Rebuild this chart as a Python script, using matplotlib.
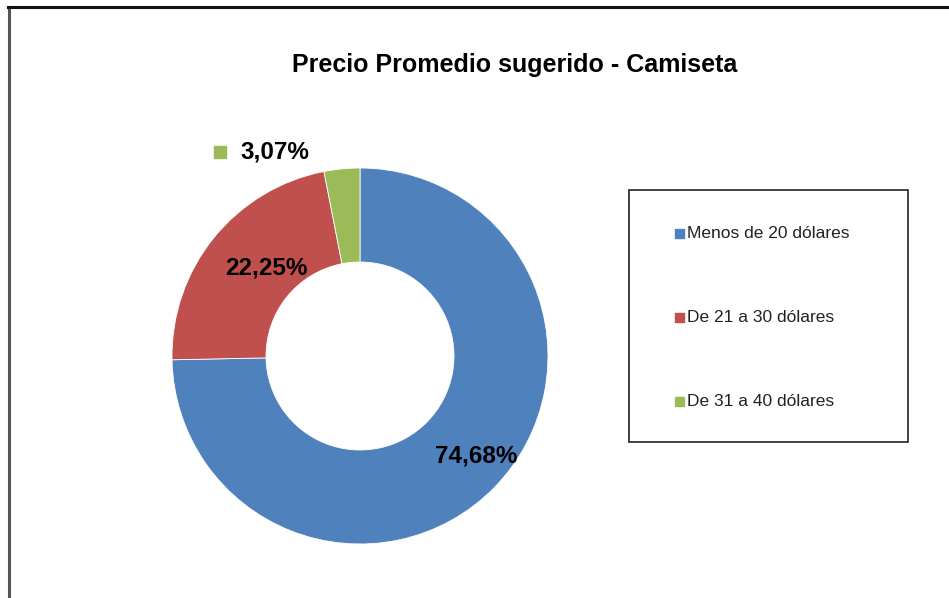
import matplotlib
matplotlib.use("Agg")
import matplotlib.pyplot as plt
from matplotlib.patches import Rectangle
from matplotlib.lines import Line2D
from matplotlib import font_manager

# datos
categorias = ["Menos de 20 dólares", "De 21 a 30 dólares", "De 31 a 40 dólares"]
porcentajes = [74.68, 22.25, 3.07]
etiquetas = ["74,68%", "22,25%", "3,07%"]
colores = ["#4F81BD", "#C0504D", "#9BBB59"]
titulo = "Precio Promedio sugerido - Camiseta"

nombres = {f.name for f in font_manager.fontManager.ttflist}
narrow = "Liberation Sans Narrow" if "Liberation Sans Narrow" in nombres else "Liberation Sans"

W, H = 949, 598
fig = plt.figure(figsize=(W / 100, H / 100), dpi=100)

def fx(px):
    return px / W

def fy(py):
    return 1 - py / H

# marco del grafico (solo se ven borde izquierdo y superior)
fig.add_artist(Line2D([fx(8.5), fx(8.5)], [fy(7), 0], color="#555555", lw=2.2))
fig.add_artist(Line2D([fx(8), 1], [fy(7), fy(7)], color="#111111", lw=2.2))

fig.text(fx(515), fy(65), titulo, ha="center", va="center",
         fontsize=18, fontweight="bold", family="Liberation Sans")

# dona
cx, cy, r = 360, 356, 188
ax = fig.add_axes([fx(cx - r), fy(cy + r), 2 * r / W, 2 * r / H])
ax.pie(porcentajes, colors=colores, startangle=90, counterclock=False,
       radius=1, wedgeprops=dict(width=0.5, edgecolor="white", linewidth=0.6))
ax.set_xlim(-1, 1)
ax.set_ylim(-1, 1)
ax.set_aspect("auto")
ax.axis("off")

pos_etiquetas = [(0.62, -0.53), (-0.50, 0.47), (-0.45, 1.085)]
for (x, y), txt in zip(pos_etiquetas, etiquetas):
    ax.text(x, y, txt, ha="center", va="center", fontsize=17.5,
            fontweight="bold", family=narrow, clip_on=False)
# cuadro de color junto a la etiqueta pequeña
ax.scatter([-0.745], [1.085], marker="s", s=80, color=colores[2], clip_on=False)

# leyenda
fig.add_artist(Rectangle((fx(629), fy(442)), fx(908) - fx(629), fy(190) - fy(442),
                         transform=fig.transFigure, fill=False,
                         edgecolor="#222222", lw=1.2))
for i, (cat, col) in enumerate(zip(categorias, colores)):
    yy = 233 + 84 * i
    fig.add_artist(Rectangle((fx(675), fy(yy + 4.5)), 9 / W, 9 / H,
                             transform=fig.transFigure, color=col))
    fig.text(fx(687), fy(yy), cat, ha="left", va="center", fontsize=12.5,
             family="Liberation Sans", color="#222222")

fig.savefig("out.png", dpi=100)
